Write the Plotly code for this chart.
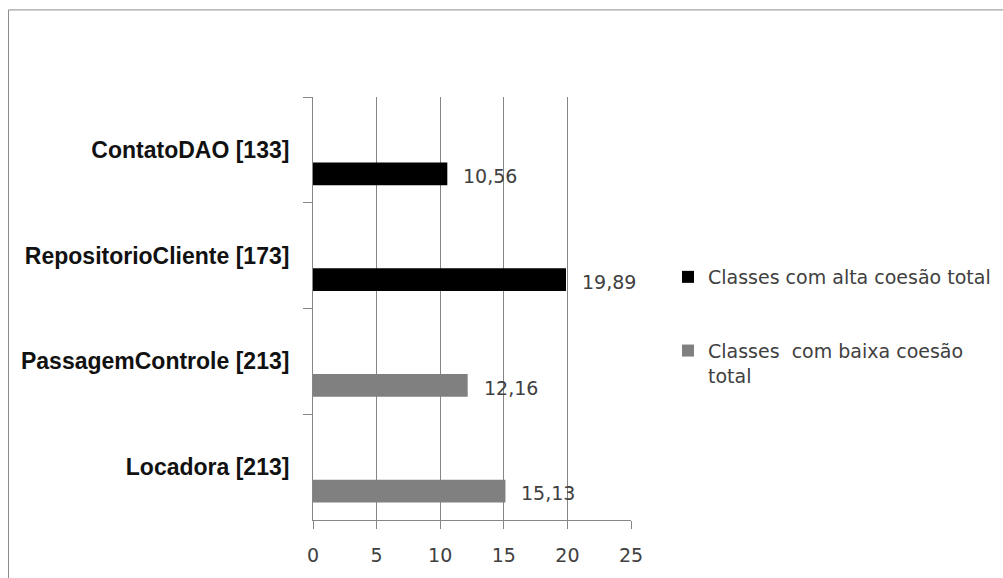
import plotly.graph_objects as go

# Categories (top to bottom) and the two series
categories = ["ContatoDAO [133]", "RepositorioCliente [173]",
              "PassagemControle [213]", "Locadora [213]"]
alta_coesao = [10.56, 19.89, None, None]
baixa_coesao = [None, None, 12.16, 15.13]
series_names = ["Classes com alta coesão total",
                "Classes  com baixa coesão<br>total"]
series_colors = ["#000000", "#808080"]
x_ticks = [0, 5, 10, 15, 20, 25]

W, H = 1003, 578
M_L, M_R, M_T, M_B = 313, 372, 97, 56
BAR_OFFSET, BAR_WIDTH = 0.12, 0.215
band_px = (H - M_T - M_B) / len(categories)

label_font = dict(family="DejaVu Sans, sans-serif", size=19, color="#404040")
grid_col = "#868686"

fig = go.Figure()
for name, vals, col, grp in zip(series_names, [alta_coesao, baixa_coesao],
                                series_colors, ["a", "b"]):
    fig.add_trace(go.Bar(
        y=categories, x=vals, orientation="h", name=name,
        marker=dict(color=col, line=dict(width=0)),
        offset=BAR_OFFSET, width=BAR_WIDTH, legendgroup=grp,
    ))

# value labels to the right of each bar
annotations = []
for vals in [alta_coesao, baixa_coesao]:
    for cat, v in zip(categories, vals):
        if v is None:
            continue
        annotations.append(dict(
            x=v, y=cat, xref="x", yref="y",
            text=f"{v:.2f}".replace(".", ","),
            showarrow=False, xanchor="left", yanchor="middle",
            xshift=14, yshift=-(BAR_OFFSET + BAR_WIDTH / 2) * band_px - 2,
            font=label_font,
        ))

# outer frame of the chart area
plot_w = W - M_L - M_R
plot_h = H - M_T - M_B
def px_x(p):
    return (p - M_L) / plot_w
def px_y(p):
    return (H - M_B - p) / plot_h

fig.update_layout(
    width=W, height=H,
    margin=dict(l=M_L, r=M_R, t=M_T, b=M_B, pad=0),
    paper_bgcolor="white", plot_bgcolor="white",
    barmode="overlay",
    showlegend=True,
    legend=dict(
        xref="container", yref="container",
        x=668 / W, y=1 - 258 / H, xanchor="left", yanchor="top",
        font=label_font, tracegroupgap=46, valign="top",
        bgcolor="rgba(0,0,0,0)",
    ),
    xaxis=dict(
        range=[0, 25], tickvals=x_ticks, ticktext=[str(t) for t in x_ticks],
        showgrid=True, gridcolor=grid_col, gridwidth=1,
        showline=True, linecolor=grid_col, linewidth=1,
        ticks="outside", ticklen=8, tickcolor=grid_col,
        tickfont=label_font, ticklabelstandoff=10, zeroline=False,
    ),
    yaxis=dict(
        categoryorder="array", categoryarray=categories,
        range=[3.5, -0.5], showgrid=False,
        showline=True, linecolor=grid_col, linewidth=1,
        ticks="outside", ticklen=9, tickcolor=grid_col, tickson="boundaries",
        tickfont=dict(family="Liberation Sans, Arial, sans-serif", size=23,
                      color="#111111", weight="bold"),
        ticklabelstandoff=18,
    ),
    annotations=annotations,
    shapes=[dict(type="rect", xref="paper", yref="paper",
                 x0=px_x(8.5), x1=px_x(1010), y0=px_y(590), y1=px_y(9.5),
                 line=dict(color="#8c8c8c", width=1), layer="below")],
)

fig.write_html("out.html")
